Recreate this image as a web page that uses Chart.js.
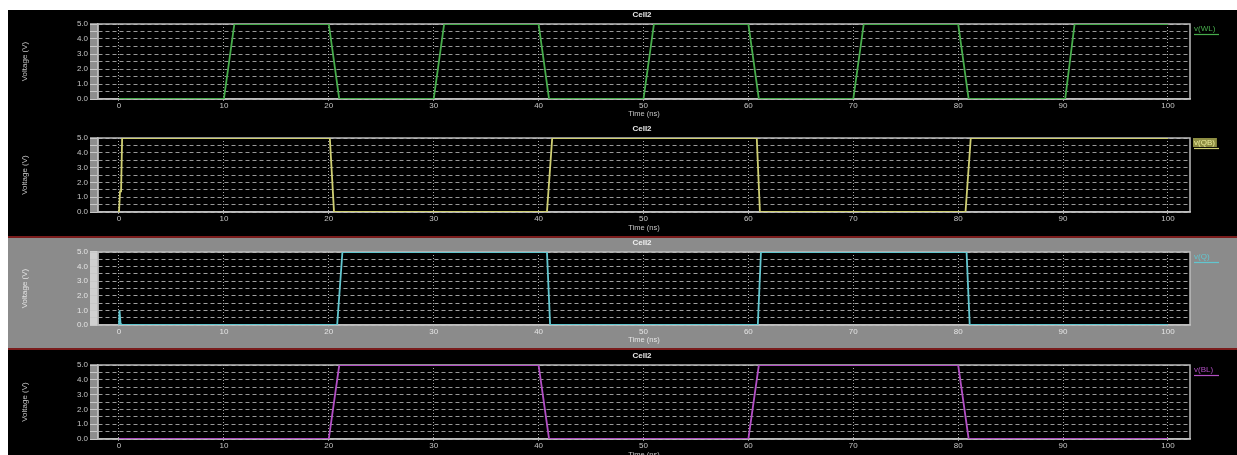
<!DOCTYPE html>
<html><head><meta charset="utf-8">
<script src="https://cdn.jsdelivr.net/npm/chart.js@4.4.1/dist/chart.umd.min.js"></script>
<style>
html,body{margin:0;padding:0;background:#fff;overflow:hidden;width:1237px;height:455px;}
#wrap{position:absolute;left:8px;top:10px;width:1229px;height:445px;background:#000;}
#p3bg{position:absolute;left:8px;top:236px;width:1229px;height:114px;background:#8b8b8b;border-top:2px solid #7a1c1c;border-bottom:2px solid #7a1c1c;box-sizing:border-box;}
canvas{position:absolute;left:8px;display:block;}
</style></head>
<body>
<div id="wrap"></div>
<div id="p3bg"></div>
<canvas id="c1" width="1229" height="112" style="top:10px"></canvas>
<canvas id="c2" width="1229" height="115" style="top:122px"></canvas>
<canvas id="c3" width="1229" height="112" style="top:237px"></canvas>
<canvas id="c4" width="1229" height="115" style="top:349px"></canvas>
<script>
// ---- data ----
const panelTitle = 'Cell2';
const xAxisTitle = 'Time (ns)';
const yAxisTitle = 'Voltage (V)';
const xTicks = [0, 10, 20, 30, 40, 50, 60, 70, 80, 90, 100];
const yTicks = [0, 0.5, 1, 1.5, 2, 2.5, 3, 3.5, 4, 4.5, 5];
const seriesLabels = ['v(WL)', 'v(QB)', 'v(Q)', 'v(BL)'];

const tWL = [0, 10, 11, 20, 21, 30, 31, 40, 41, 50, 51, 60, 61, 70, 71, 80, 81, 90.2, 91.1, 100];
const vWL = [0, 0, 5, 5, 0, 0, 5, 5, 0, 0, 5, 5, 0, 0, 5, 5, 0, 0, 5, 5];

const tQB = [0, 0.1, 0.2, 0.3, 20.1, 20.5, 40.8, 41.3, 60.8, 61.1, 80.7, 81.2, 100];
const vQB = [0, 1.4, 1.4, 5, 5, 0, 0, 5, 5, 0, 0, 5, 5];

const tQ = [0, 0.05, 0.15, 0.3, 20.8, 21.3, 40.8, 41.1, 60.9, 61.2, 80.8, 81.1, 100];
const vQ = [0, 1.0, 0.1, 0, 0, 5, 5, 0, 0, 5, 5, 0, 0];

const tBL = [0, 20, 21, 40, 41, 60, 61, 80, 81, 100];
const vBL = [0, 0, 5, 5, 0, 0, 5, 5, 0, 0];

// ---- styling ----
const FONT = "'Liberation Sans', Arial, sans-serif";
const pts = (t, v) => t.map((x, i) => ({x: x, y: v[i]}));

const decor = {
  id: 'decor',
  beforeDraw(chart, args, o) {
    const {ctx, chartArea: a} = chart;
    ctx.save();
    ctx.fillStyle = '#000';
    ctx.fillRect(a.left, a.top, a.right - a.left, a.bottom - a.top);
    ctx.fillStyle = o.strip;
    ctx.fillRect(a.left - 8, a.top - 1, 8, a.bottom - a.top + 2);
    ctx.restore();
  },
  beforeDatasetsDraw(chart, args, o) {
    const {ctx, chartArea: a} = chart;
    ctx.save();
    ctx.strokeStyle = '#bdbdbd';
    ctx.lineWidth = 1.5;
    ctx.strokeRect(a.left, a.top, a.right - a.left, a.bottom - a.top);
    ctx.restore();
  },
  afterDraw(chart, args, o) {
    const {ctx, chartArea: a} = chart;
    const ds = chart.data.datasets[0];
    ctx.save();
    // panel title
    ctx.font = 'bold 8px ' + FONT;
    ctx.textAlign = 'center';
    ctx.textBaseline = 'middle';
    ctx.fillStyle = o.titleColor;
    ctx.fillText(o.title, (a.left + a.right) / 2 - 2, a.top - 9.5);
    // legend
    ctx.font = '8px ' + FONT;
    ctx.textAlign = 'left';
    const w = ctx.measureText(ds.label).width;
    if (o.legendBg) {
      ctx.fillStyle = o.legendBg;
      ctx.fillRect(a.right + 3, a.top, w + 3, 9);
    }
    ctx.fillStyle = o.legendText || ds.borderColor;
    ctx.fillText(ds.label, a.right + 4, a.top + 4.5);
    ctx.strokeStyle = ds.borderColor;
    ctx.lineWidth = 1.2;
    ctx.beginPath();
    ctx.moveTo(a.right + 4, a.top + 10.5);
    ctx.lineTo(a.right + 29, a.top + 10.5);
    ctx.stroke();
    ctx.restore();
  }
};

function makePanel(id, label, data, color, p) {
  return new Chart(document.getElementById(id), {
    type: 'line',
    data: {datasets: [{label: label, data: data, borderColor: color, borderWidth: 1.8,
      pointRadius: 0, tension: 0, fill: false}]},
    plugins: [decor],
    options: {
      responsive: false, animation: false, devicePixelRatio: 1,
      layout: {padding: {left: 0, right: 47, top: p.chartTop, bottom: 0}},
      plugins: {
        legend: {display: false}, tooltip: {enabled: false}, title: {display: false},
        decor: {strip: p.strip, legendBg: p.legendBg, legendText: p.legendText,
          title: panelTitle, titleColor: p.titleColor}
      },
      scales: {
        x: {
          type: 'linear', min: -2, max: 102.1,
          afterBuildTicks: s => { s.ticks = xTicks.map(v => ({value: v})); },
          afterFit: s => { s.height = p.xH; },
          ticks: {color: p.textColor, font: {family: FONT, size: 8}, padding: 0, maxRotation: 0,
            autoSkip: false, callback: v => String(v)},
          grid: {color: p.vgrid, lineWidth: 1, tickLength: 2, tickColor: '#999'},
          border: {display: true, color: '#bdbdbd', width: 1.5, dash: [1, 2]},
          title: {display: true, text: xAxisTitle, color: p.textColor, align: 'center',
            font: {family: FONT, size: 7.5}, padding: {top: 0, bottom: p.xTitlePad}}
        },
        y: {
          min: 0, max: 5,
          afterBuildTicks: s => { s.ticks = yTicks.map(v => ({value: v})); },
          afterFit: s => { s.width = 90; },
          ticks: {color: p.textColor, font: {family: FONT, size: 8}, padding: 2, autoSkip: false,
            callback: v => (Math.abs(v % 1) < 1e-9 ? v.toFixed(1) : '')},
          grid: {color: p.hgrid, lineWidth: 1, tickLength: 8, tickColor: '#c8c8c8'},
          border: {display: true, color: '#bdbdbd', width: 1.5, dash: [4, 3]},
          title: {display: true, text: yAxisTitle, color: p.textColor,
            font: {family: FONT, size: 8}, padding: {top: 12, bottom: 0}}
        }
      }
    }
  });
}

const darkStyle = {titleColor: '#e8e8e8', textColor: '#c4c4c4', strip: '#8e8e8e',
  hgrid: 'rgba(190,190,190,0.8)', vgrid: 'rgba(210,210,210,0.8)'};
const greyStyle = {titleColor: '#f0f0f0', textColor: '#e4e4e4', strip: '#d0d0d0',
  hgrid: 'rgba(200,200,200,0.8)', vgrid: 'rgba(215,215,215,0.8)'};

makePanel('c1', seriesLabels[0], pts(tWL, vWL), '#47ad4c',
  Object.assign({}, darkStyle, {chartTop: 14, xH: 23, xTitlePad: 3.8}));
makePanel('c2', seriesLabels[1], pts(tQB, vQB), '#cfcf72',
  Object.assign({}, darkStyle, {chartTop: 16, xH: 25, xTitlePad: 4.8,
    legendBg: 'rgba(190,190,90,0.75)', legendText: '#eaea9a'}));
makePanel('c3', seriesLabels[2], pts(tQ, vQ), '#62c6cf',
  Object.assign({}, greyStyle, {chartTop: 15, xH: 24, xTitlePad: 4.8}));
makePanel('c4', seriesLabels[3], pts(tBL, vBL), '#b24fc4',
  Object.assign({}, darkStyle, {chartTop: 16, xH: 25, xTitlePad: 4.8}));
</script>
</body></html>
